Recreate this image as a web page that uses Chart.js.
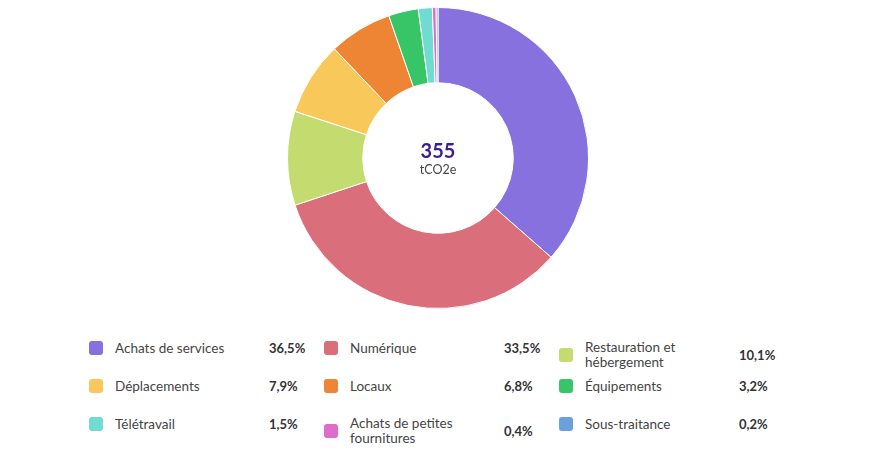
<!DOCTYPE html>
<html>
<head>
<meta charset="utf-8">
<script src="https://cdn.jsdelivr.net/npm/chart.js@4"></script>
<style>
    body { margin: 0; background: #fff; font-family: "Lato", "Noto Sans", sans-serif; }
    #wrap { position: relative; width: 870px; height: 468px; }
    #donutBox { position: absolute; left: 287px; top: 7px; width: 302px; height: 302px; }
    #center { position: absolute; left: 363px; top: 139px; width: 150px; text-align: center; pointer-events: none; }
    #center .big { font-size: 20px; font-weight: 700; color: #3d1c8c; line-height: 23px; }
    #center .unit { font-size: 12.5px; color: #444; line-height: 16px; }
    .item { position: absolute; width: 225px; display: flex; align-items: center; font-size: 13.5px; color: #444; }
    .swatch { width: 14px; height: 14px; border-radius: 3px; flex: none; }
    .label { margin-left: 12px; width: 154px; line-height: 15px; }
    .value { font-weight: 700; color: #333; font-size: 13px; }
</style>
</head>
<body>
<div id="wrap">
    <div id="donutBox"><canvas id="donutChart"></canvas></div>
    <div id="center"><div class="big" id="total"></div><div class="unit">tCO2e</div></div>
    <div id="legend"></div>
</div>
<script>
// ========
// Data
// ========
const categories = [
    "Achats de services", "Numérique", "Restauration et hébergement",
    "Déplacements", "Locaux", "Équipements",
    "Télétravail", "Achats de petites fournitures", "Sous-traitance"
];
const shares = [36.5, 33.5, 10.1, 7.9, 6.8, 3.2, 1.5, 0.4, 0.2];
const colors = [
    "#8771df", "#db6e7b", "#c4dc6f",
    "#f8c85b", "#ee8534", "#38c567",
    "#70dcd1", "#de6dc9", "#6b9fde"
];
const totalEmissions = 355;

document.getElementById("total").textContent = totalEmissions;

// ── Donut ──
new Chart(document.getElementById("donutChart"), {
    type: "doughnut",
    data: {
        labels: categories,
        datasets: [{
            data: shares,
            backgroundColor: colors,
            borderColor: "#fff",
            borderWidth: 1
        }]
    },
    options: {
        responsive: true,
        maintainAspectRatio: false,
        animation: false,
        cutout: "50%",
        plugins: { legend: { display: false }, tooltip: { enabled: false } }
    }
});

// ── HTML legend, 3 columns ──
const legendEl = document.getElementById("legend");
const rowTops = [340, 378, 416];
categories.forEach((name, i) => {
    const col = i % 3, row = Math.floor(i / 3);
    const item = document.createElement("div");
    item.className = "item";
    item.style.left = (89 + col * 235) + "px";
    item.style.top = rowTops[row] + "px";
    // long names go on two lines, breaking before the last word
    const text = name.length > 20 ? name.replace(/ (\S+)$/, "<br>$1") : name;
    item.innerHTML =
        `<span class="swatch" style="background:${colors[i]}"></span>` +
        `<span class="label">${text}</span>` +
        `<span class="value">${shares[i].toFixed(1).replace(".", ",")}%</span>`;
    legendEl.appendChild(item);
});
</script>
</body>
</html>
